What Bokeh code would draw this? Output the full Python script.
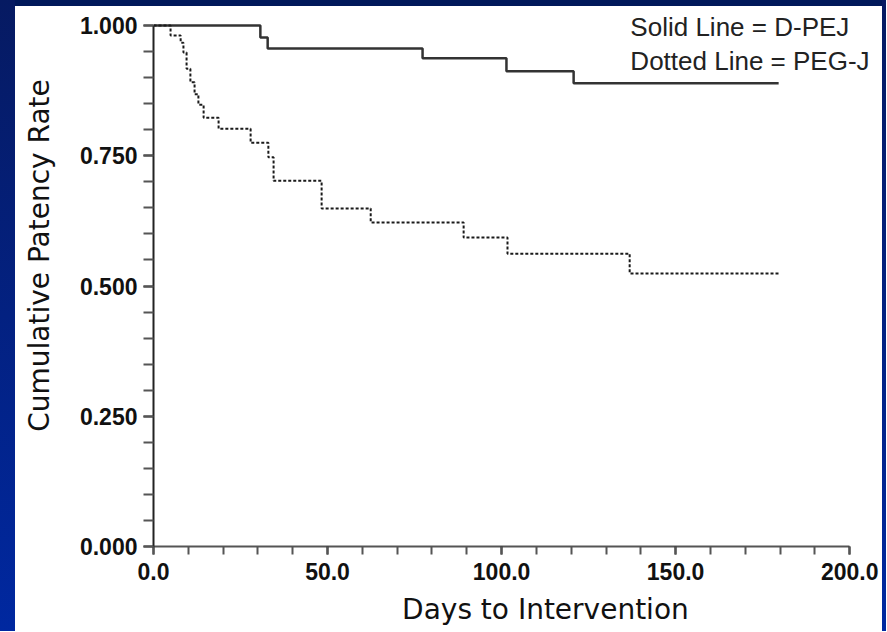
import math
from bokeh.plotting import figure
from bokeh.models import Range1d, FixedTicker, Label, Div
from bokeh.layouts import row, column
from bokeh.embed import file_html
from bokeh.resources import INLINE

# D-PEJ (solid line) Kaplan-Meier steps
dpej_days = [0, 30.7, 32.8, 77.3, 101.4, 120.7, 179.6]
dpej_rate = [1.0, 0.977, 0.956, 0.937, 0.912, 0.889, 0.889]

# PEG-J (dotted line) Kaplan-Meier steps
pegj_days = [0, 4.9, 7.8, 8.6, 9.5, 10.6, 11.8, 12.9, 14.4, 18.7, 27.9, 33.0, 34.5,
             48.3, 62.4, 89.1, 101.7, 136.8, 179.6]
pegj_rate = [1.0, 0.981, 0.967, 0.948, 0.917, 0.891, 0.868, 0.848, 0.823, 0.802, 0.775,
             0.747, 0.702, 0.649, 0.622, 0.593, 0.562, 0.524, 0.524]

x_ticks = [0, 50, 100, 150, 200]
x_tick_labels = ["0.0", "50.0", "100.0", "150.0", "200.0"]
x_minor = list(range(0, 201, 10))
y_ticks = [0, 0.25, 0.5, 0.75, 1.0]
y_tick_labels = ["0.000", "0.250", "0.500", "0.750", "1.000"]
y_minor = [i * 0.05 for i in range(21)]

x_title = "Days to Intervention"
y_title = "Cumulative Patency Rate"
legend_lines = ["Solid Line = D-PEJ", "Dotted Line = PEG-J"]

FONT = "Liberation Sans"
TITLE_FONT = "DejaVu Sans"
X_MAX = 208

# ---- main plot ----
p = figure(width=817, height=586, output_backend="svg", toolbar_location=None,
           title=None,
           x_range=Range1d(0, X_MAX), y_range=Range1d(0, 1.0365),
           min_border_left=88, min_border_right=5, min_border_top=0, min_border_bottom=46)
p.outline_line_color = None
p.grid.visible = False
p.background_fill_color = "white"
p.border_fill_color = "white"

p.step(dpej_days, dpej_rate, mode="after", line_color="#333333", line_width=2.5)
p.step(pegj_days, pegj_rate, mode="after", line_color="#1a1a1a", line_width=2,
       line_dash="3 2")

for ax in (p.xaxis[0], p.yaxis[0]):
    ax.axis_line_color = "#222222"
    ax.axis_line_width = 2
    ax.major_tick_line_color = "#222222"
    ax.major_tick_line_width = 2
    ax.minor_tick_line_color = "#555555"
    ax.minor_tick_line_width = 2
    ax.major_tick_in = 0
    ax.minor_tick_in = 0
    ax.major_label_text_font = FONT
    ax.major_label_text_font_style = "bold"
    ax.major_label_text_font_size = "23px"
    ax.major_label_text_color = "#111111"

xa = p.xaxis[0]
xa.bounds = (0, 200)
xa.axis_line_color = "#555555"
xa.ticker = FixedTicker(ticks=x_ticks, minor_ticks=x_minor)
xa.major_label_overrides = dict(zip(x_ticks, x_tick_labels))
xa.major_tick_out = 8
xa.minor_tick_out = 8
xa.major_label_standoff = 8

ya = p.yaxis[0]
ya.bounds = (0, 1)
ya.ticker = FixedTicker(ticks=y_ticks, minor_ticks=y_minor)
ya.major_label_overrides = dict(zip(y_ticks, y_tick_labels))
ya.major_tick_out = 10
ya.minor_tick_out = 10
ya.major_label_standoff = 6

for i, txt in enumerate(legend_lines):
    p.add_layout(Label(x=137.0, y=0.998 - i * 0.066, text=txt, text_font=FONT,
                       text_font_size="26px", text_color="#222222",
                       text_baseline="alphabetic", text_align="left"))


def text_panel(w, h, xr):
    f = figure(width=w, height=h, output_backend="svg", toolbar_location=None,
               title=None, x_range=Range1d(0, xr), y_range=Range1d(0, h),
               x_axis_location=None, y_axis_location=None, min_border=0)
    f.outline_line_color = None
    f.grid.visible = False
    f.background_fill_color = "white"
    f.border_fill_color = "white"
    return f


# ---- x-axis title panel (below the plot, frame aligned with the plot) ----
xt = text_panel(817, 39, X_MAX)
xt.add_layout(Label(x=112.6, y=22, text=x_title, text_font=TITLE_FONT,
                    text_font_size="28px", text_color="#111111",
                    text_align="center", text_baseline="alphabetic"))

# ---- y-axis title panel (left of the plot) ----
yt = text_panel(50, 625, 50)
yt.add_layout(Label(x=23.5, y=376, text=y_title, text_font=TITLE_FONT,
                    text_font_size="28px", text_color="#111111", angle=math.pi / 2,
                    text_align="center", text_baseline="alphabetic"))

left_strip = Div(width=15, height=631, margin=0,
                 styles={"background": "linear-gradient(to bottom, #061a62, #0028a0)"})
top_strip = Div(width=867, height=6, margin=0, styles={"background": "#00185a"})
right_strip = Div(width=4, height=631, margin=0,
                  styles={"background": "linear-gradient(to bottom, #061a62, #0028a0)"})

inner = row(yt, column(p, xt, spacing=0), spacing=0)
layout = row(left_strip, column(top_strip, inner, spacing=0), right_strip, spacing=0)
open("out.html", "w").write(file_html(layout, INLINE))
